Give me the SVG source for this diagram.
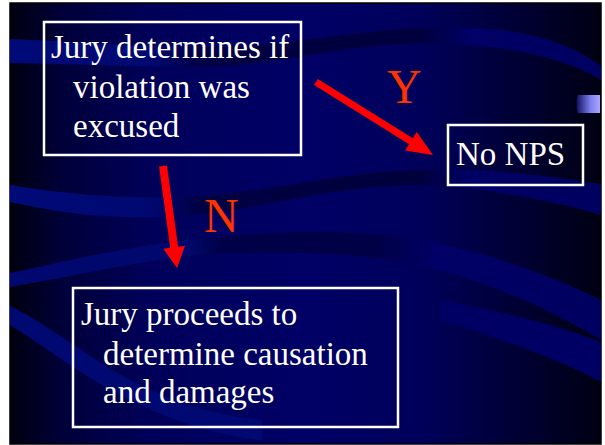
<svg xmlns="http://www.w3.org/2000/svg" width="605" height="445" viewBox="0 0 605 445">
  <defs>
    <linearGradient id="bg" x1="10" y1="0" x2="601" y2="0" gradientUnits="userSpaceOnUse">
      <stop offset="0" stop-color="#000010"/>
      <stop offset="0.09" stop-color="#00003a"/>
      <stop offset="0.24" stop-color="#00005a"/>
      <stop offset="0.5" stop-color="#000066"/>
      <stop offset="0.7" stop-color="#00005a"/>
      <stop offset="0.86" stop-color="#000034"/>
      <stop offset="1" stop-color="#000012"/>
    </linearGradient>
    <linearGradient id="wave" x1="10" y1="0" x2="601" y2="0" gradientUnits="userSpaceOnUse">
      <stop offset="0" stop-color="#000a78"/>
      <stop offset="0.24" stop-color="#000870"/>
      <stop offset="0.32" stop-color="#000044"/>
      <stop offset="0.69" stop-color="#00003c"/>
      <stop offset="0.78" stop-color="#000066"/>
      <stop offset="1" stop-color="#000060"/>
    </linearGradient>
    <linearGradient id="wave2" x1="10" y1="0" x2="601" y2="0" gradientUnits="userSpaceOnUse">
      <stop offset="0" stop-color="#000870"/>
      <stop offset="0.3" stop-color="#00086c"/>
      <stop offset="0.36" stop-color="#000046"/>
      <stop offset="0.62" stop-color="#000046"/>
      <stop offset="0.72" stop-color="#000066"/>
      <stop offset="1" stop-color="#000060"/>
    </linearGradient>
    <linearGradient id="tab" x1="0" y1="0" x2="1" y2="0">
      <stop offset="0" stop-color="#101060"/>
      <stop offset="0.6" stop-color="#8080f0"/>
      <stop offset="1" stop-color="#a8a8ff"/>
    </linearGradient>
    <style>
      .box { fill: none; stroke: #ffffff; stroke-width: 2.5; }
      .txt { font-family: "Liberation Serif", "Times New Roman", serif; font-size: 33px; fill: #ffffff; }
      .lbl { font-family: "Liberation Serif", "Times New Roman", serif; font-size: 48px; fill: #ff3300; }
      .arrow { fill: #ff0000; }
    </style>
  </defs>

  <!-- page and slide background -->
  <rect x="0" y="0" width="605" height="445" fill="#ffffff"/>
  <rect x="10" y="3" width="591" height="441" fill="url(#bg)" stroke="#000000" stroke-width="1.5"/>

  <!-- wave bands -->
  <g id="waves">
    <path fill="url(#wave)" d="M10,39 C80,42 150,47 200,47 C280,47 340,32 420,28 C500,24 560,35 601,66 L601,80 C560,55 500,44 420,43 C340,45 270,67 200,67 C140,67 80,64 10,63 Z"/>
    <path fill="url(#wave)" d="M10,185 C70,195 130,200 200,196 C280,190 340,172 420,170 C500,168 560,178 601,184 L601,215 C550,200 490,188 420,185 C340,185 280,205 200,214 C130,222 70,215 10,202 Z"/>
    <path fill="url(#wave2)" d="M10,273 C80,258 150,242 220,237 C300,230 360,230 420,240 C500,255 560,280 601,300 L601,340 C560,315 500,285 420,265 C360,252 300,252 220,253 C150,258 80,275 10,287 Z"/>
    <path fill="#000064" d="M440,300 C500,312 560,325 601,342 L601,382 C560,360 500,338 440,320 Z"/>
    <path fill="#000872" d="M10,306 C50,325 90,360 140,385 C180,405 220,416 262,420 L262,440 C220,436 180,424 130,400 C85,378 50,350 10,325 Z"/>
    <path fill="url(#tab)" d="M578,95 Q575,104 578,113 L600,113 L600,95 Z"/>
  </g>

  <!-- connectors -->
  <g id="connectors">
    <polygon class="arrow" points="317.85,79.03 412.8,138.27 416.77,131.91 433,155 405.13,150.57 409.1,144.21 314.15,84.97"/>
    <polygon class="arrow" points="166.96,165.46 178.1,246.66 185.04,245.7 177,268 163.24,248.7 170.18,247.74 159.04,166.54"/>
    <text class="lbl" x="387" y="103">Y</text>
    <text class="lbl" x="204" y="232">N</text>
  </g>

  <!-- nodes -->
  <g id="node-excused">
    <rect class="box" x="44" y="22" width="257" height="133"/>
    <text class="txt" x="51" y="58">Jury determines if</text>
    <text class="txt" x="73" y="98">violation was</text>
    <text class="txt" x="73" y="137">excused</text>
  </g>
  <g id="node-no-nps">
    <rect class="box" x="448" y="125" width="135" height="60"/>
    <text class="txt" x="456" y="165">No NPS</text>
  </g>
  <g id="node-causation">
    <rect class="box" x="73" y="288" width="325" height="139"/>
    <text class="txt" x="81" y="325">Jury proceeds to</text>
    <text class="txt" x="103" y="365">determine causation</text>
    <text class="txt" x="103" y="403">and damages</text>
  </g>
</svg>
